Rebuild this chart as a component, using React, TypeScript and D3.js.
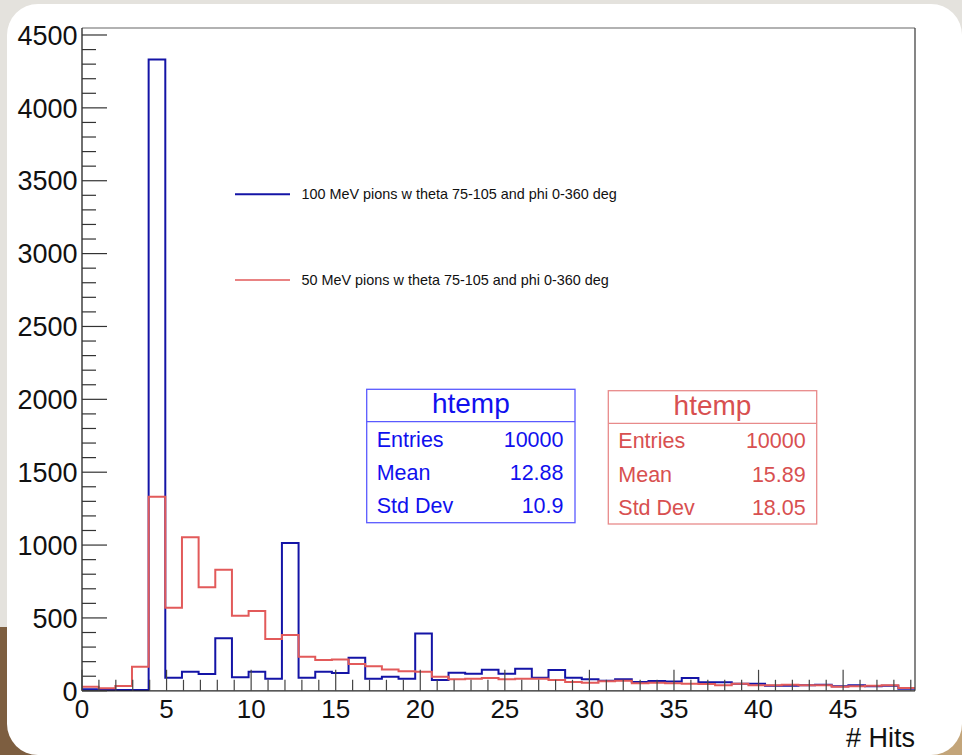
import React from "react";
import * as d3 from "d3";

const W = 962;
const H = 755;

const binCount = 50;
const xMax = 49.25;
const yMax = 4548;

const blueCounts = [10, 5, 5, 5, 4332, 90, 131, 115, 360, 93,
  131, 83, 1014, 90, 131, 122, 227, 83, 97, 83,
  394, 74, 124, 117, 145, 117, 152, 90, 143, 90,
  79, 69, 79, 60, 67, 63, 88, 58, 58, 49,
  49, 35, 35, 38, 42, 31, 38, 31, 35, 14];

const redCounts = [28, 17, 33, 165, 1332, 570, 1053, 710, 831, 515,
  548, 355, 383, 234, 211, 214, 184, 168, 147, 134,
  131, 97, 79, 83, 88, 79, 83, 83, 74, 60,
  56, 65, 69, 51, 56, 51, 49, 47, 38, 49,
  38, 38, 42, 38, 38, 28, 31, 35, 38, 19];

const yMajorTicks = [0, 500, 1000, 1500, 2000, 2500, 3000, 3500, 4000, 4500];
const xMajorTicks = [0, 5, 10, 15, 20, 25, 30, 35, 40, 45];

const legendLabels = [
  "100 MeV pions w theta 75-105 and phi 0-360 deg",
  "50 MeV pions w theta 75-105 and phi 0-360 deg",
];

const statLabels = ["Entries", "Mean", "Std Dev"];
const blueStats = ["10000", "12.88", "10.9"];
const redStats = ["10000", "15.89", "18.05"];

const BLUE = "#1414a6";
const RED = "#e25a5a";
const BLUE_TEXT = "#1010ee";
const RED_TEXT = "#d85050";
const FONT = "'Liberation Sans', Arial, Helvetica, sans-serif";

export default function App() {
  const left = 82, right = 915, top = 28, bottom = 690.8;
  const x = d3.scaleLinear().domain([0, xMax]).range([left, right]);
  const y = d3.scaleLinear().domain([0, yMax]).range([bottom, top]);
  const bw = xMax / binCount;

  const stepPath = (counts: number[]) => {
    const pts: [number, number][] = counts.map((c, i) => [i * bw, c]);
    pts.push([xMax, counts[counts.length - 1]]);
    return d3
      .line<[number, number]>()
      .x((d) => x(d[0]))
      .y((d) => y(d[1]))
      .curve(d3.curveStepAfter)(pts) as string;
  };

  const yMinor = d3.range(0, 4501, 100);
  const xMinor = d3.range(0, 50, 1);

  const statBox = (
    bx: number, by: number, bw2: number, bh: number, sepY: number,
    border: string, color: string, vals: string[], lx: number, rx: number,
    rowY: number[], titleY: number
  ) => (
    <g>
      <rect x={bx} y={by} width={bw2} height={bh} fill="white" stroke={border} strokeWidth={1.3} />
      <line x1={bx} x2={bx + bw2} y1={sepY} y2={sepY} stroke={border} strokeWidth={1.3} />
      <text x={bx + bw2 / 2} y={titleY} textAnchor="middle" fontSize={28} fill={color} fontFamily={FONT}>htemp</text>
      {statLabels.map((l, i) => (
        <g key={l}>
          <text x={lx} y={rowY[i]} fontSize={21.5} fill={color} fontFamily={FONT}>{l}</text>
          <text x={rx} y={rowY[i]} fontSize={21.5} fill={color} textAnchor="end" fontFamily={FONT}>{vals[i]}</text>
        </g>
      ))}
    </g>
  );

  return (
    <svg width={W} height={H} style={{ position: "absolute", left: 0, top: 0 }}>
      <rect x={0} y={0} width={W} height={H} fill="#e4e2dd" />
      <rect x={0} y={627} width={60} height={130} fill="#7d5e40" />
      <rect x={915} y={700} width={60} height={60} fill="#c3a57a" />
      <rect x={7} y={4} width={W - 7} height={H - 4} rx={31} ry={31} fill="white" />

      {/* histograms */}
      <path d={stepPath(blueCounts)} fill="none" stroke={BLUE} strokeWidth={2} />
      <path d={stepPath(redCounts)} fill="none" stroke={RED} strokeWidth={2} />

      {/* frame */}
      <line x1={left} x2={right} y1={top} y2={top} stroke="#999" strokeWidth={1.5} />
      <line x1={right} x2={right} y1={top} y2={bottom} stroke="#444" strokeWidth={1.3} />
      <line x1={left} x2={left} y1={top} y2={bottom} stroke="#222" strokeWidth={1.3} />
      <line x1={left} x2={right} y1={bottom} y2={bottom} stroke="#222" strokeWidth={1.3} />

      {/* y ticks */}
      {yMinor.map((v) => (
        <line key={"ym" + v} x1={left} x2={left + (v % 500 === 0 ? 25 : 14)} y1={y(v)} y2={y(v)} stroke="#333" strokeWidth={1.2} />
      ))}
      {yMajorTicks.map((v) => (
        <text key={"yl" + v} x={77.5} y={y(v)} dy="0.36em" textAnchor="end" fontSize={27} fontFamily={FONT} fill="#111">{v}</text>
      ))}

      {/* x ticks */}
      {xMinor.map((v) => (
        <line key={"xm" + v} x1={x(v)} x2={x(v)} y1={bottom} y2={bottom - (v % 5 === 0 ? 21 : 11)} stroke="#444" strokeWidth={1.2} />
      ))}
      {xMajorTicks.map((v) => (
        <text key={"xl" + v} x={x(v)} y={718} textAnchor="middle" fontSize={26} fontFamily={FONT} fill="#111">{v}</text>
      ))}
      <text x={915} y={747} textAnchor="end" fontSize={27} fontFamily={FONT} fill="#111"># Hits</text>

      {/* legend */}
      <line x1={235} x2={290} y1={194.3} y2={194.3} stroke={BLUE} strokeWidth={2} />
      <text x={301.5} y={199} fontSize={14.4} fontFamily={FONT} fill="#111">{legendLabels[0]}</text>
      <line x1={235} x2={290} y1={280} y2={280} stroke={RED} strokeWidth={1.5} />
      <text x={301.5} y={285} fontSize={14.4} fontFamily={FONT} fill="#111">{legendLabels[1]}</text>

      {/* stats boxes */}
      {statBox(366.7, 389.3, 208.3, 133.4, 421.7, "#5a5aff", BLUE_TEXT, blueStats, 376.7, 563.5, [446.7, 480, 513.3], 413.3)}
      {statBox(608.3, 390.7, 208.4, 133.3, 423.3, "#e88a8a", RED_TEXT, redStats, 618.3, 805.7, [448.3, 481.7, 515], 415)}
    </svg>
  );
}
